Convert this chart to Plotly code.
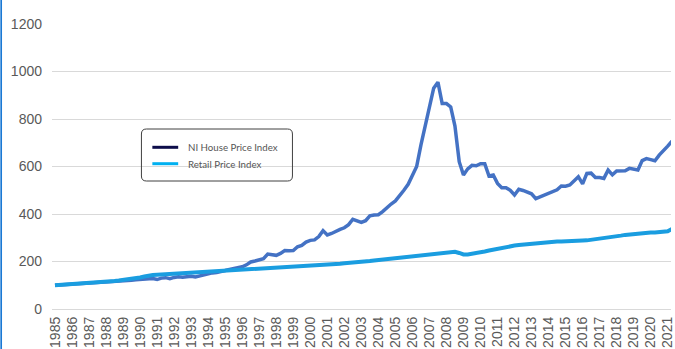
import plotly.graph_objects as go

# Quarterly observations, 1985 Q1 onwards (index, 1985 = 100)
start_year = 1985
house_price_index = [
    100, 101, 102, 103,   # 1985
    104, 105, 106, 107,   # 1986
    108, 109, 110, 111,   # 1987
    112, 113, 114, 116,   # 1988
    118, 119, 121, 123,   # 1989
    124, 126, 125, 128,   # 1990
    124, 130, 132, 128,   # 1991
    133, 136, 134, 137,   # 1992
    138, 135, 140, 143,   # 1993
    150, 152, 154, 157,   # 1994
    162, 167, 170, 174,   # 1995
    178, 186, 198, 202,   # 1996
    206, 212, 231, 228,   # 1997
    226, 234, 246, 245,   # 1998
    246, 262, 268, 282,   # 1999
    289, 291, 305, 330,   # 2000
    312, 318, 328, 335,   # 2001
    342, 355, 378, 372,   # 2002
    365, 372, 392, 396,   # 2003
    397, 410, 428, 442,   # 2004
    455, 475, 500, 525,   # 2005
    560, 600, 690, 770,   # 2006
    860, 930, 955, 865,   # 2007
    865, 851, 770, 620,   # 2008
    564, 590, 605, 603,   # 2009
    612, 612, 560, 564,   # 2010
    529, 511, 511, 500,   # 2011
    480, 504, 499, 492,   # 2012
    485, 465, 472, 482,   # 2013
    488, 494, 502, 518,   # 2014
    517, 522, 538, 557,   # 2015
    527, 571, 572, 554,   # 2016
    554, 550, 585, 565,   # 2017
    581, 581, 582, 592,   # 2018
    588, 585, 625, 633,   # 2019
    629, 624, 648, 665,   # 2020
    686, 707,             # 2021
]
retail_price_index = [
    100, 101, 102, 103,   # 1985
    104, 105, 106, 107,   # 1986
    109, 110, 112, 113,   # 1987
    115, 116, 118, 120,   # 1988
    122, 125, 128, 130,   # 1989
    133, 137, 141, 143,   # 1990
    144, 145, 147, 148,   # 1991
    149, 150, 151, 152,   # 1992
    153, 154, 155, 156,   # 1993
    157, 158, 160, 161,   # 1994
    162, 163, 164, 165,   # 1995
    166, 167, 168, 169,   # 1996
    170, 171, 172, 173,   # 1997
    174, 175, 176, 177,   # 1998
    178, 179, 180, 181,   # 1999
    183, 184, 185, 186,   # 2000
    188, 189, 190, 191,   # 2001
    193, 194, 195, 197,   # 2002
    199, 200, 202, 204,   # 2003
    206, 208, 210, 212,   # 2004
    214, 216, 218, 220,   # 2005
    222, 224, 226, 228,   # 2006
    229, 231, 233, 235,   # 2007
    237, 240, 241, 236,   # 2008
    230, 230, 232, 235,   # 2009
    238, 242, 246, 250,   # 2010
    254, 258, 261, 264,   # 2011
    267, 269, 271, 273,   # 2012
    275, 277, 279, 281,   # 2013
    282, 283, 284, 284,   # 2014
    284, 285, 286, 287,   # 2015
    288, 289, 291, 293,   # 2016
    296, 298, 301, 303,   # 2017
    306, 309, 312, 314,   # 2018
    316, 319, 320, 321,   # 2019
    322, 322, 324, 326,   # 2020
    327, 337,             # 2021
]
quarters = [start_year + i / 4 for i in range(len(house_price_index))]
year_ticks = list(range(1985, 2022))
year_labels = [str(y) for y in year_ticks]
y_ticks = [0, 200, 400, 600, 800, 1000, 1200]

series_names = ["NI House Price Index", "Retail Price Index"]
line_colors = ["#4472c4", "#1a9de0"]
line_widths = [3.5, 4]
legend_colors = ["#0d0d4a", "#00b0f0"]

fig = go.Figure()
for name, values, color, width in zip(series_names,
                                      [house_price_index, retail_price_index],
                                      line_colors, line_widths):
    fig.add_trace(go.Scatter(
        x=quarters, y=values, mode="lines", name=name,
        line=dict(color=color, width=width), showlegend=False,
        hoverinfo="skip",
    ))

W, H = 675, 349
ML, MR, MT, MB = 52, 0, 24, 40
pw, ph = W - ML - MR, H - MT - MB


def px_x(x):
    return (x - ML) / pw


def px_y(y):
    return (H - MB - y) / ph


# rounded frame around the key
x0, x1 = px_x(142), px_x(294)
y0, y1 = px_y(181), px_y(129)
rx, ry = 5 / pw, 5 / ph
frame = (f"M {x0 + rx},{y1} L {x1 - rx},{y1} Q {x1},{y1} {x1},{y1 - ry} "
         f"L {x1},{y0 + ry} Q {x1},{y0} {x1 - rx},{y0} "
         f"L {x0 + rx},{y0} Q {x0},{y0} {x0},{y0 + ry} "
         f"L {x0},{y1 - ry} Q {x0},{y1} {x0 + rx},{y1} Z")

shapes = [
    dict(type="path", path=frame, xref="paper", yref="paper",
         line=dict(color="#404040", width=1), fillcolor="rgba(0,0,0,0)"),
    dict(type="rect", xref="paper", yref="paper",
         x0=px_x(0), x1=px_x(1.7), y0=px_y(H + 2), y1=px_y(-2),
         line=dict(width=0), fillcolor="#1a78d4"),
]

# key: sample line + label per series
annotations = []
key_rows = [147.3, 163.7]
for name, color, row in zip(series_names, legend_colors, key_rows):
    shapes.append(dict(type="line", xref="paper", yref="paper",
                       x0=px_x(153), x1=px_x(179), y0=px_y(row), y1=px_y(row),
                       line=dict(color=color, width=3)))
    annotations.append(dict(
        x=px_x(187), y=px_y(row), xref="paper", yref="paper",
        xanchor="left", yanchor="middle", showarrow=False, text=name,
        font=dict(family="Lato, sans-serif", size=9.7, color="#555555"),
    ))

fig.update_layout(
    width=W, height=H,
    margin=dict(l=ML, r=MR, t=MT, b=MB),
    paper_bgcolor="white", plot_bgcolor="white",
    font=dict(family="Liberation Sans, Arial, sans-serif", color="#595959"),
    shapes=shapes, annotations=annotations, showlegend=False,
    xaxis=dict(
        range=[1985 - 3 / 17.13, 1985 + (W - 55) / 17.13],
        tickvals=year_ticks, ticktext=year_labels, tickangle=-90,
        tickfont=dict(size=14, color="#595959"),
        showgrid=False, zeroline=False, showline=False, ticks="",
        ticklabelstandoff=4, ticklabeloverflow="allow",
    ),
    yaxis=dict(
        range=[0, 1200], tickvals=y_ticks,
        tickfont=dict(size=14, color="#595959"),
        showgrid=True, gridcolor="#d9d9d9", gridwidth=1,
        zeroline=True, zerolinecolor="#d9d9d9", zerolinewidth=1,
        showline=False, ticks="", ticklabelstandoff=9,
    ),
)

fig.write_html("out.html")
